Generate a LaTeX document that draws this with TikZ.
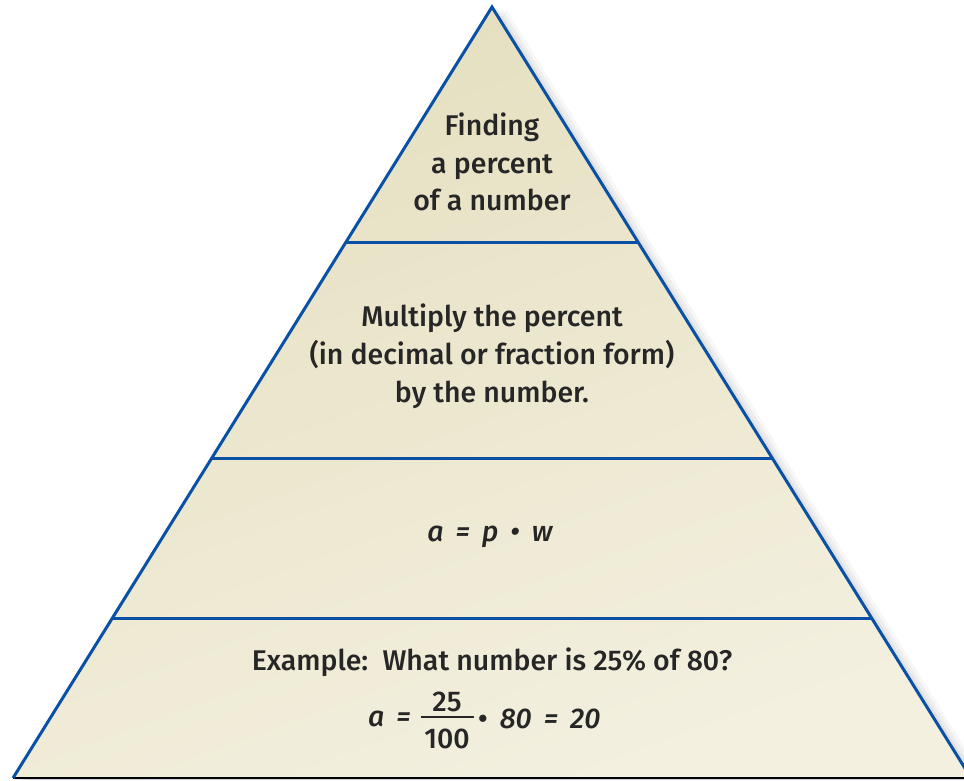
\documentclass[tikz,border=0pt]{standalone}
\usepackage{fontspec}
\setmainfont{Fira Sans}[BoldFont={Fira Sans Medium},BoldItalicFont={Fira Sans Medium Italic}]
\usetikzlibrary{calc}
\definecolor{pyrblue}{HTML}{0A50A5}
\definecolor{pyrtop}{HTML}{E5DFBF}
\definecolor{pyrbot}{HTML}{F3F0E0}
\definecolor{baseline}{HTML}{8FA3C0}
\newcommand{\gsp}{\hspace{0.42em}}
\tikzset{
  layerline/.style={draw=pyrblue,line width=3pt},
  lbl/.style={align=center,font=\fontsize{28.5}{37.8}\selectfont\bfseries,text=black!85,inner sep=0pt},
}
\begin{document}
\begin{tikzpicture}[x=1pt,y=-1pt]
\useasboundingbox (0,0) rectangle (964,780);
\coordinate (apex) at (492,7);
\coordinate (bl) at (13,778);
\coordinate (br) at (971,778);
\begin{scope}
\clip (0,0) rectangle (964,780);
% soft shadow
\foreach \o/\op in {14/0.03,10/0.04,6/0.05,3/0.06}{
  \fill[black,opacity=\op] ($(apex)+(\o,2)$) -- ($(br)+(\o,2)$) -- ($(bl)+(\o,2)$) -- cycle;
}
\shade[top color=pyrtop,bottom color=pyrbot,shading angle=20] (apex) -- (br) -- (bl) -- cycle;
\draw[baseline,line width=1.2pt] (bl) -- (br);
\draw[layerline,line join=miter] (bl) -- (apex) -- (br);
\draw[layerline] (346,242) coordinate (l1a) -- (638,242) coordinate (l1b);
\draw[layerline] (211.8,458) coordinate (l2a) -- (772.2,458) coordinate (l2b);
\draw[layerline] (112.4,618) coordinate (l3a) -- (871.6,618) coordinate (l3b);
\end{scope}
\node[lbl] (t1) at (492,162) {Finding\\a percent\\of a number};
\node[lbl] (t2) at (492,356) {Multiply the percent\\(in decimal or fraction form)\\by the number.};
\node[lbl] (t3) at (490,537) {\itshape a\gsp=\gsp p\gsp\textbullet\gsp w};
\node[lbl,anchor=base] (t4) at (492,670) {Example:\enspace What number is 25\% of 80?};
\node[lbl,anchor=west] (t5a) at (368,719) {\itshape a\gsp=};
\node[lbl] (t5n) at (447,702) {25};
\node[lbl] (t5d) at (447,739) {100};
\draw[black!85,line width=2.2pt] (421,717) -- (474,717);
\node[lbl,anchor=west] (t5b) at (478,719) {\textbullet\gsp\itshape 80\gsp=\gsp20};
\end{tikzpicture}
\end{document}
